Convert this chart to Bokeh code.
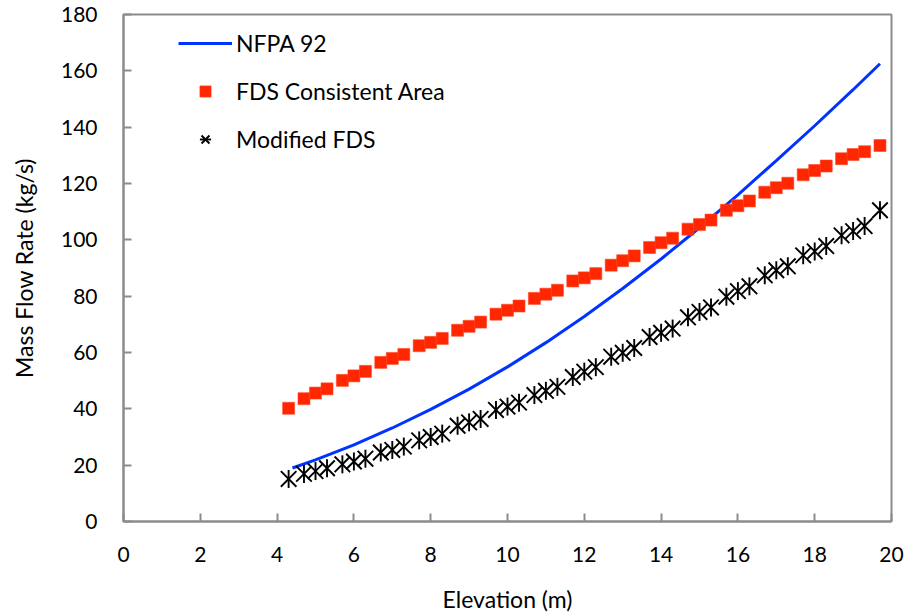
import math
from bokeh.plotting import figure
from bokeh.models import Range1d, FixedTicker, Legend, LegendItem
from bokeh.embed import file_html
from bokeh.resources import INLINE

# ---- data ----
elev = [4.3,
        4.7, 5.0, 5.3, 5.7, 6.0, 6.3, 6.7, 7.0, 7.3, 7.7, 8.0, 8.3,
        8.7, 9.0, 9.3, 9.7, 10.0, 10.3, 10.7, 11.0, 11.3, 11.7, 12.0, 12.3,
        12.7, 13.0, 13.3, 13.7, 14.0, 14.3, 14.7, 15.0, 15.3, 15.7, 16.0, 16.3,
        16.7, 17.0, 17.3, 17.7, 18.0, 18.3, 18.7, 19.0, 19.3,
        19.7]

fds_consistent = [40.2,
                  43.6, 45.6, 47.1, 50.1, 51.7, 53.3, 56.5, 57.9, 59.3, 62.4, 63.6, 65.0,
                  67.9, 69.3, 70.8, 73.6, 75.0, 76.5, 79.2, 80.7, 82.1, 85.4, 86.5, 88.0,
                  91.0, 92.6, 94.3, 97.3, 99.0, 100.6, 103.8, 105.4, 107.0, 110.5, 112.1, 113.8,
                  116.9, 118.5, 120.1, 123.1, 124.6, 126.2, 128.8, 130.3, 131.3,
                  133.5]

modified_fds = [15.1,
                16.9, 17.9, 18.9, 20.3, 21.3, 22.3, 24.5, 25.4, 26.6, 28.8, 30.0, 31.2,
                34.0, 35.2, 36.4, 39.6, 40.8, 42.2, 44.9, 46.4, 47.8, 51.3, 53.2, 54.8,
                58.5, 59.9, 61.6, 65.5, 67.0, 68.5, 72.5, 74.4, 76.0, 79.8, 81.8, 83.5,
                87.4, 89.2, 90.6, 94.5, 95.9, 97.8, 101.6, 103.1, 104.9,
                110.5]

nfpa_x = [4.4, 5.0, 6.0, 7.0, 8.0, 9.0, 10.0, 11.0, 12.0, 13.0,
          14.0, 15.0, 16.0, 17.0, 18.0, 19.0, 19.7]
nfpa_y = [19.0, 21.9, 27.2, 33.2, 39.8, 47.0, 54.9, 63.5, 72.8, 82.7,
          93.2, 104.3, 116.0, 128.1, 140.5, 153.3, 162.5]

x_ticks = list(range(0, 21, 2))
y_ticks = list(range(0, 181, 20))

FONT = "Lato"
GRAY = "#8c8c8c"

p = figure(width=907, height=615,
           x_range=Range1d(0, 20), y_range=Range1d(0, 180),
           output_backend="svg", toolbar_location=None,
           min_border_left=123, min_border_right=16,
           min_border_top=14, min_border_bottom=93,
           background_fill_color="white", border_fill_color="white")

p.xgrid.visible = False
p.ygrid.visible = False
p.outline_line_color = GRAY
p.outline_line_width = 2

p.xaxis.ticker = FixedTicker(ticks=x_ticks)
p.yaxis.ticker = FixedTicker(ticks=y_ticks)

for ax in (p.xaxis, p.yaxis):
    ax.axis_line_color = GRAY
    ax.axis_line_width = 2
    ax.major_tick_line_color = GRAY
    ax.major_tick_line_width = 2
    ax.major_tick_in = 8
    ax.major_tick_out = 0
    ax.minor_tick_line_color = None
    ax.major_label_text_font = FONT
    ax.major_label_text_font_size = "21px"
    ax.major_label_text_color = "black"
    ax.axis_label_text_font = FONT
    ax.axis_label_text_font_size = "23px"
    ax.axis_label_text_font_style = "normal"
    ax.axis_label_text_color = "black"

p.xaxis.axis_label = "Elevation (m)"
p.yaxis.axis_label = "Mass Flow Rate (kg/s)"
p.xaxis.major_label_standoff = 25
p.yaxis.major_label_standoff = 26
p.xaxis.axis_label_standoff = 20
p.yaxis.axis_label_standoff = 20

r_line = p.line(nfpa_x, nfpa_y, line_color="#0033ff", line_width=3)
r_sq = p.scatter(elev, fds_consistent, marker="square", size=12,
                 fill_color="#ff2600", line_color="#ff4a2a", line_width=0.6)
r_sx = p.scatter(elev, modified_fds, marker="x", size=22,
                 line_color="black", line_width=1.9)
r_sv = p.scatter(elev, modified_fds, marker="dash", size=18, angle=math.pi / 2,
                 line_color="black", line_width=1.9)

legend = Legend(items=[LegendItem(label="NFPA 92", renderers=[r_line]),
                       LegendItem(label="FDS Consistent Area", renderers=[r_sq]),
                       LegendItem(label="Modified FDS", renderers=[r_sx, r_sv])],
                location=(55, 368), glyph_width=54, glyph_height=28,
                label_height=28, spacing=20, padding=0, margin=0,
                label_standoff=4, border_line_color=None,
                background_fill_alpha=0,
                label_text_font=FONT, label_text_font_size="23px",
                label_text_color="black")
p.add_layout(legend)

open("out.html", "w").write(file_html(p, INLINE))
